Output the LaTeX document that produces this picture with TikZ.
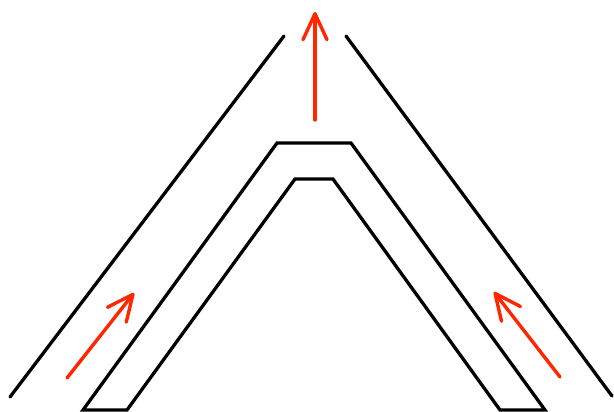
\documentclass[tikz,border=0pt]{standalone}
\usetikzlibrary{arrows.meta}
\definecolor{flowred}{RGB}{255,38,0}

\begin{document}
\begin{tikzpicture}[x=1pt, y=-1pt,
    wall/.style={line width=3.3pt, black, line cap=round, line join=miter},
    flow/.style={line width=3.4pt, flowred, line cap=round,
      -{Straight Barb[length=26pt, width=24pt, line cap=round, line join=round]}}]
        \useasboundingbox (0,0) rectangle (614,412);

        % Outer walls
        \draw[wall] (10,397) -- (284,36);
        \draw[wall] (346,36) -- (612,396);

        % Inner wedge
        \draw[wall] (83,410) -- (277,143) -- (351,143) -- (545,410)
          -- (500,410) -- (333,179) -- (295,179) -- (127,410) -- cycle;

        % Flow directions
        \coordinate (inL) at (67,378);
        \coordinate (tipL) at (134,293);
        \coordinate (inR) at (560,377);
        \coordinate (tipR) at (494,292);
        \coordinate (outB) at (315,120);
        \coordinate (tipT) at (315,12);
        \draw[flow] (inL) -- (tipL);
        \draw[flow] (inR) -- (tipR);
        \draw[flow] (outB) -- (tipT);
\end{tikzpicture}
\end{document}
